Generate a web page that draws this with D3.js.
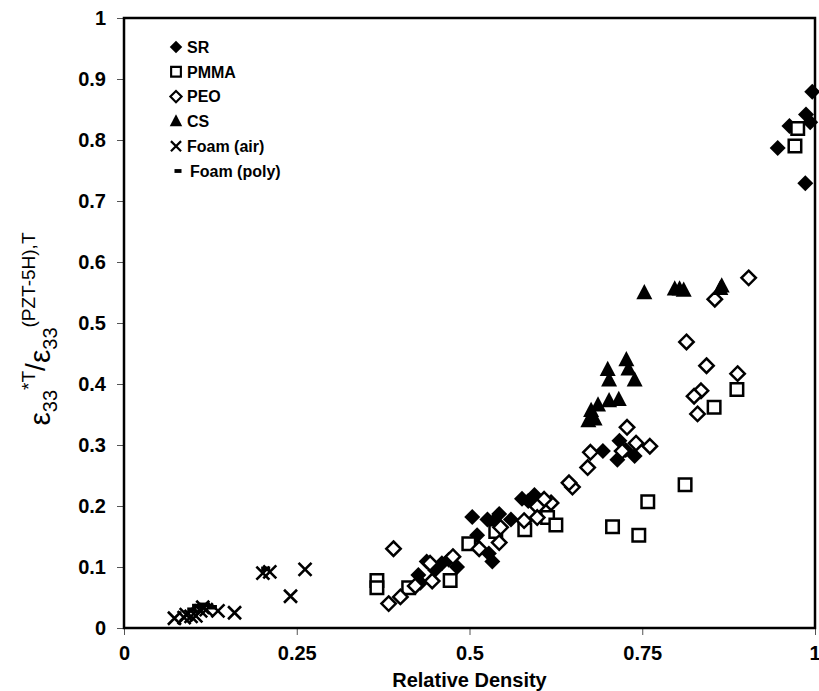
<!DOCTYPE html>
<html>
<head>
<meta charset="utf-8">
<script src="https://cdn.jsdelivr.net/npm/d3@7"></script>
<style>
  body { margin: 0; background: #fff; }
  text { font-family: "Liberation Sans", Arial, sans-serif; font-weight: bold; fill: #000; }
</style>
</head>
<body>
<svg id="chart"></svg>
<script>
// tick values
var xTicks = [0, 0.25, 0.5, 0.75, 1];
var yTicks = [0, 0.1, 0.2, 0.3, 0.4, 0.5, 0.6, 0.7, 0.8, 0.9, 1];

// series, [relative density, permittivity ratio]
var srData = [
  [0.996, 0.879], [0.987, 0.842], [0.993, 0.829], [0.963, 0.823], [0.946, 0.787], [0.986, 0.729],
  [0.693, 0.290], [0.717, 0.307], [0.714, 0.276], [0.739, 0.282], [0.726, 0.292],
  [0.576, 0.212], [0.594, 0.218], [0.585, 0.208],
  [0.504, 0.182], [0.526, 0.178], [0.543, 0.187], [0.560, 0.178], [0.535, 0.175],
  [0.511, 0.152], [0.528, 0.122], [0.533, 0.109],
  [0.426, 0.087], [0.438, 0.109], [0.460, 0.106], [0.482, 0.100], [0.470, 0.112], [0.429, 0.074], [0.450, 0.095]
];
var pmmaData = [
  [0.975, 0.819], [0.971, 0.790], [0.887, 0.391], [0.854, 0.362], [0.812, 0.235], [0.758, 0.207],
  [0.707, 0.166], [0.745, 0.152], [0.613, 0.181], [0.625, 0.169], [0.580, 0.161], [0.538, 0.158],
  [0.499, 0.138], [0.472, 0.078], [0.412, 0.066], [0.366, 0.078], [0.366, 0.066]
];
var peoData = [
  [0.904, 0.574], [0.855, 0.539], [0.814, 0.469], [0.843, 0.430], [0.888, 0.417], [0.835, 0.389],
  [0.825, 0.380], [0.830, 0.351],
  [0.728, 0.329], [0.741, 0.303], [0.761, 0.298], [0.721, 0.290], [0.675, 0.288], [0.671, 0.263],
  [0.649, 0.231], [0.644, 0.238], [0.618, 0.205], [0.608, 0.211], [0.598, 0.199], [0.598, 0.181],
  [0.579, 0.176], [0.545, 0.165], [0.543, 0.140], [0.514, 0.130], [0.476, 0.117], [0.443, 0.106],
  [0.446, 0.077], [0.4215, 0.069], [0.400, 0.051], [0.383, 0.040], [0.390, 0.130]
];
var csData = [
  [0.700, 0.423], [0.702, 0.406], [0.727, 0.439], [0.730, 0.424], [0.739, 0.406], [0.686, 0.365],
  [0.702, 0.372], [0.716, 0.374], [0.676, 0.356], [0.672, 0.339], [0.681, 0.342],
  [0.753, 0.549], [0.797, 0.555], [0.804, 0.555], [0.810, 0.553], [0.865, 0.560], [0.863, 0.556]
];
var foamAirData = [
  [0.073, 0.016], [0.087, 0.017], [0.097, 0.019], [0.104, 0.020], [0.111, 0.028], [0.119, 0.030],
  [0.136, 0.028], [0.160, 0.025], [0.114, 0.034], [0.090, 0.022],
  [0.201, 0.090], [0.211, 0.092], [0.241, 0.052], [0.262, 0.096]
];
var foamPolyData = [
  [0.105, 0.036], [0.118, 0.038], [0.128, 0.034], [0.098, 0.030], [0.205, 0.097]
];

var svgWidth = 819, svgHeight = 691;
var margin = {top: 18, right: 4, bottom: 63, left: 124};
var width = svgWidth - margin.left - margin.right;
var height = svgHeight - margin.top - margin.bottom;

var svg = d3.select('#chart')
  .attr('width', svgWidth)
  .attr('height', svgHeight);

var g = svg.append('g')
  .attr('transform', 'translate(' + margin.left + ',' + margin.top + ')');

var x = d3.scaleLinear().domain([0, 1]).range([0, width]);
var y = d3.scaleLinear().domain([0, 1]).range([height, 0]);

// marker shapes
function diamond(r) { return 'M0,' + (-r) + 'L' + r + ',0L0,' + r + 'L' + (-r) + ',0Z'; }
function square(s) { var h = s / 2; return 'M' + (-h) + ',' + (-h) + 'H' + h + 'V' + h + 'H' + (-h) + 'Z'; }
function triangle(s) { var h = s * 0.95; return 'M0,' + (-h * 0.6) + 'L' + (s / 2) + ',' + (h * 0.4) + 'L' + (-s / 2) + ',' + (h * 0.4) + 'Z'; }
function cross(s) { var h = s / 2; return 'M' + (-h) + ',' + (-h) + 'L' + h + ',' + h + 'M' + h + ',' + (-h) + 'L' + (-h) + ',' + h; }
function dash(s) { return 'M' + (-s / 2) + ',0H' + (s / 2); }

var series = [
  {name: 'SR', data: srData, path: function(k) { return diamond(8 * k); }, fill: '#000', stroke: 'none', sw: 0},
  {name: 'PMMA', data: pmmaData, path: function(k) { return square(12.5 * k); }, fill: '#fff', stroke: '#000', sw: 2.5},
  {name: 'PEO', data: peoData, path: function(k) { return diamond(7.2 * k); }, fill: '#fff', stroke: '#000', sw: 2.5},
  {name: 'CS', data: csData, path: function(k) { return triangle(16 * k); }, fill: '#000', stroke: 'none', sw: 0},
  {name: 'Foam (air)', data: foamAirData, path: function(k) { return cross(13 * k); }, fill: 'none', stroke: '#000', sw: 2.6},
  {name: 'Foam (poly)', data: foamPolyData, path: function(k) { return dash(9 * k); }, fill: 'none', stroke: '#000', sw: 4.5}
];

// axes
var xAxis = g.append('g')
  .attr('class', 'axis axis-x')
  .attr('transform', 'translate(0,' + height + ')')
  .call(d3.axisBottom(x).tickValues(xTicks).tickSize(7).tickPadding(11)
    .tickFormat(function(d) { return d3.format('~g')(d); }));
xAxis.select('.domain').remove();
xAxis.selectAll('line').attr('stroke', '#555').attr('stroke-width', 1);
xAxis.selectAll('text').attr('font-size', '20px');
// keep the last label inside the page
xAxis.selectAll('text').filter(function(d) { return d == 1; })
  .attr('text-anchor', 'end').attr('dx', 5);

var yAxis = g.append('g')
  .attr('class', 'axis axis-y')
  .call(d3.axisLeft(y).tickValues(yTicks).tickSize(7).tickPadding(11)
    .tickFormat(function(d) { return d3.format('~g')(d); }));
yAxis.select('.domain').remove();
yAxis.selectAll('line').attr('stroke', '#555').attr('stroke-width', 1);
yAxis.selectAll('text').attr('font-size', '20px');

// points
series.forEach(function(s) {
  g.append('g')
    .selectAll('path')
    .data(s.data)
    .enter()
    .append('path')
    .attr('transform', function(d) { return 'translate(' + x(d[0]) + ',' + y(d[1]) + ')'; })
    .attr('d', s.path(1))
    .attr('fill', s.fill)
    .attr('stroke', s.stroke)
    .attr('stroke-width', s.sw);
});

// plot frame
g.append('rect')
  .attr('width', width)
  .attr('height', height)
  .attr('fill', 'none')
  .attr('stroke', '#000')
  .attr('stroke-width', 2.5);

// legend
var legend = g.append('g')
  .attr('transform', 'translate(52,29)');
series.forEach(function(s, i) {
  var row = legend.append('g').attr('transform', 'translate(0,' + (i * 24.8) + ')');
  row.append('path')
    .attr('transform', 'translate(' + (i == 5 ? 2 : 0) + ',0)')
    .attr('d', s.path(0.78))
    .attr('fill', s.fill)
    .attr('stroke', s.stroke)
    .attr('stroke-width', s.sw * 0.85);
  row.append('text')
    .attr('x', i == 5 ? 14 : 11)
    .attr('dy', '0.36em')
    .attr('font-size', '16px')
    .text(s.name);
});

// x label
svg.append('text')
  .attr('x', margin.left + width / 2)
  .attr('y', 687)
  .attr('text-anchor', 'middle')
  .attr('font-size', '20px')
  .text('Relative Density');

// y label
var yl = svg.append('text')
  .attr('transform', 'translate(50,' + (margin.top + height / 2 + 6) + ') rotate(-90)')
  .attr('text-anchor', 'middle');
yl.append('tspan').attr('font-size', '30px').attr('font-weight', 'normal').text('\u03b5');
yl.append('tspan').attr('font-size', '20px').attr('font-weight', 'normal').attr('dy', 7).text('33');
yl.append('tspan').attr('font-size', '19px').attr('font-weight', 'normal').attr('dy', -22).text('*T');
yl.append('tspan').attr('font-size', '28px').attr('font-weight', 'normal').attr('dy', 10).text('/');
yl.append('tspan').attr('font-size', '30px').attr('font-weight', 'normal').attr('dy', 5).text('\u03b5');
yl.append('tspan').attr('font-size', '20px').attr('font-weight', 'normal').attr('dy', 7).text('33');
yl.append('tspan').attr('font-size', '19px').attr('font-weight', 'normal').attr('dy', -22).text('(PZT-5H),T');
</script>
</body>
</html>
